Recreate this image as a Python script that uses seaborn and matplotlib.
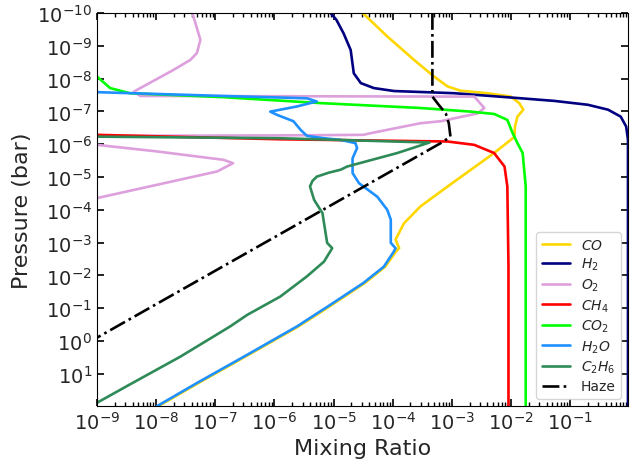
import numpy as np
import matplotlib
matplotlib.use('Agg')
import matplotlib.pyplot as plt
import matplotlib.ticker as ticker
import pandas as pd
import seaborn as sns

# Mixing ratio profiles (pressure in bar, mixing ratio)
co_p = [1e-10, 5.2e-10, 2.7e-9, 8.7e-9, 1.74e-8, 2.35e-8, 2.8e-8, 3.55e-8, 5.6e-8, 8.9e-8, 1.45e-7, 2.9e-7, 6.0e-7,
        1.86e-6, 1.95e-5, 7.9e-5, 2.6e-4, 8.1e-4, 1.48e-3, 1.86e-3, 5.4e-3, 1.7e-2, 7.8e-2, 0.36, 2.6, 19, 98]
co_x = [3.1e-5, 8.1e-5, 2.3e-4, 5.0e-4, 8.5e-4, 1.41e-3, 4.0e-3, 1.0e-2, 1.38e-2, 1.62e-2, 1.29e-2, 1.17e-2, 1.15e-2,
        5.2e-3, 8.5e-4, 2.95e-4, 1.55e-4, 1.12e-4, 1.29e-4, 1.14e-4, 7.5e-5, 3.4e-5, 9.5e-6, 2.55e-6, 3.7e-7, 5.2e-8, 1.08e-8]

h2_p = [1e-10, 1.63e-10, 4.2e-10, 1.35e-9, 6.9e-9, 1.38e-8, 1.95e-8, 2.4e-8, 2.8e-8, 4.0e-8, 4.8e-8, 6.3e-8, 8.9e-8,
        1.45e-7, 2.9e-7, 7.4e-7, 100]
h2_x = [8.9e-6, 1.12e-5, 1.48e-5, 1.95e-5, 2.2e-5, 2.9e-5, 4.8e-5, 1.05e-4, 1.1e-3, 1.48e-2, 5.4e-2, 0.2, 0.44,
        0.72, 0.89, 0.955, 0.955]

o2_p = [1e-10, 6.6e-10, 1.66e-9, 2.7e-9, 5.5e-9, 2.5e-8, 3.4e-8, 3.55e-8, 7.9e-8, 1.15e-7, 2.0e-7, 2.3e-7, 4.6e-7,
        5.2e-7, 5.4e-7, 5.6e-7, 7.4e-7, 1.05e-6, 1.66e-6, 3.0e-6, 3.8e-6, 6.8e-6, 1.74e-5, 4.4e-5]
o2_x = [4.1e-8, 5.6e-8, 4.9e-8, 3.8e-8, 1.95e-8, 4.2e-9, 5.4e-9, 2.4e-3, 3.55e-3, 2.75e-3, 6.5e-4, 2.95e-4, 4.3e-5,
        3.2e-5, 1.26e-6, 1e-9, 4e-10, 1e-9, 1.02e-8, 1.38e-7, 2.0e-7, 1.07e-7, 1.02e-8, 1e-9]

ch4_p = [5.2e-7, 7.1e-7, 8.3e-7, 1.05e-6, 1.86e-6, 4.8e-6, 1.95e-5, 5.4e-3, 100]
ch4_x = [1e-9, 1.26e-6, 8.5e-4, 2.4e-3, 5.2e-3, 7.8e-3, 8.7e-3, 9.1e-3, 9.1e-3]

co2_p = [8.7e-9, 1.95e-8, 2.8e-8, 3.7e-8, 5.6e-8, 7.9e-8, 1.02e-7, 1.2e-7, 1.82e-7, 4.6e-7, 9.3e-7, 1.86e-6,
         1.95e-5, 100]
co2_x = [1e-9, 1.66e-9, 3.6e-9, 1.38e-7, 6.0e-6, 2.95e-4, 2.1e-3, 5.2e-3, 8.7e-3, 1.07e-2, 1.29e-2, 1.58e-2,
         1.78e-2, 1.78e-2]

h2o_p = [2.6e-8, 3.4e-8, 4.0e-8, 5.0e-8, 7.1e-8, 1.02e-7, 1.29e-7, 2.0e-7, 3.6e-7, 5.6e-7, 6.6e-7, 7.4e-7, 9.3e-7,
         1.32e-6, 2.7e-6, 7.6e-6, 1.55e-5, 4.0e-5, 1.0e-4, 2.0e-4, 1.02e-3, 1.48e-3, 1.86e-3, 5.4e-3, 1.7e-2,
         7.8e-2, 0.36, 2.6, 19, 98]
h2o_x = [1e-9, 1.38e-7, 3.55e-6, 5.2e-6, 2.4e-6, 8.5e-7, 1.12e-6, 2.1e-6, 2.75e-6, 3.55e-6, 6.9e-6, 1.32e-5, 2.35e-5,
         2.5e-5, 2.1e-5, 2.1e-5, 2.7e-5, 5.5e-5, 8.1e-5, 9.3e-5, 9.3e-5, 1.12e-4, 1.05e-4, 7.1e-5, 3.2e-5,
         8.9e-6, 2.4e-6, 3.5e-7, 4.9e-8, 1.02e-8]

c2h6_p = [5.9e-7, 6.6e-7, 8.9e-7, 1.86e-6, 4.8e-6, 6.0e-6, 7.4e-6, 9.8e-6, 1.32e-5, 1.95e-5, 5.0e-5, 1.26e-4,
          4.1e-4, 1.02e-3, 1.48e-3, 3.8e-3, 1.07e-2, 4.4e-2, 0.158, 0.36, 2.95, 21, 76]
c2h6_x = [1e-9, 1.26e-6, 4.2e-4, 1.2e-4, 1.7e-5, 1.32e-5, 8.3e-6, 5.2e-6, 4.4e-6, 4.0e-6, 4.7e-6, 6.5e-6,
          7.2e-6, 7.8e-6, 9.5e-6, 6.9e-6, 3.55e-6, 1.26e-6, 3.5e-7, 1.78e-7, 2.6e-8, 3.6e-9, 1e-9]

haze_p = [1e-10, 3.55e-8, 6.3e-8, 1.15e-7, 2.3e-7, 5.9e-7, 9.3e-7, 0.79]
haze_x = [4.7e-4, 4.7e-4, 6.0e-4, 7.9e-4, 8.9e-4, 9.5e-4, 6.5e-4, 1e-9]

species = [
    ('$CO$', co_p, co_x, 'gold', '-'),
    ('$H_2$', h2_p, h2_x, 'navy', '-'),
    ('$O_2$', o2_p, o2_x, 'plum', '-'),
    ('$CH_4$', ch4_p, ch4_x, 'red', '-'),
    ('$CO_2$', co2_p, co2_x, 'lime', '-'),
    ('$H_2O$', h2o_p, h2o_x, 'dodgerblue', '-'),
    ('$C_2H_6$', c2h6_p, c2h6_x, 'seagreen', '-'),
    ('Haze', haze_p, haze_x, 'black', '-.'),
]

sns.set_style('ticks', {'xtick.direction': 'in', 'ytick.direction': 'in',
                        'axes.edgecolor': 'black'})
plt.rcParams['font.family'] = ['DejaVu Sans']

fig, ax = plt.subplots(figsize=(6.3, 4.64), dpi=100)
fig.subplots_adjust(left=0.154, right=0.997, top=0.970, bottom=0.123)
ax.set_xscale('log')
ax.set_yscale('log')

for name, p, x, col, ls in species:
    df = pd.DataFrame({'Mixing Ratio': x, 'Pressure': p})
    sns.lineplot(data=df, x='Mixing Ratio', y='Pressure', sort=False, estimator=None,
                 color=col, linestyle=ls, linewidth=1.9, label=name, ax=ax)

ax.set_xlim(1e-9, 0.96)
ax.set_ylim(95, 1e-10)
ax.yaxis.set_major_locator(ticker.LogLocator(base=10, numticks=20))
ax.yaxis.set_minor_locator(ticker.NullLocator())
ax.xaxis.set_major_locator(ticker.LogLocator(base=10, numticks=20))
ax.xaxis.set_minor_locator(ticker.LogLocator(base=10, subs=np.arange(2, 10), numticks=20))
ax.xaxis.set_minor_formatter(ticker.NullFormatter())
ax.tick_params(which='both', direction='in', top=True, right=True, labelsize=14, color='black')
ax.tick_params(which='major', length=5, width=1.2)
ax.tick_params(which='minor', length=3, width=1)

ax.set_xlabel('Mixing Ratio', fontsize=16)
ax.set_ylabel('Pressure (bar)', fontsize=16)
ax.legend(loc='lower right', fontsize=10, labelspacing=0.3)

plt.savefig('out.png', dpi=100)
